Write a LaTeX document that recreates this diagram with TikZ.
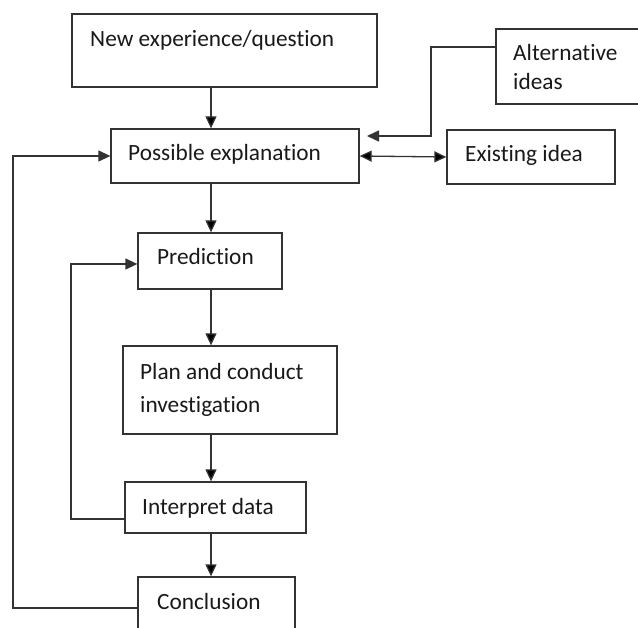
\documentclass[tikz,border=0pt]{standalone}
\usepackage{fontspec}
\setmainfont{Carlito}[Ligatures=NoCommon]
\usetikzlibrary{arrows.meta, positioning}

\begin{document}
\begin{tikzpicture}[x=1pt, y=-1pt,
    box/.style={draw=black!80, line width=1.3pt, inner sep=0pt},
    txt/.style={anchor=base west, inner sep=0pt, text=black!90, font=\fontsize{23.3}{29}\selectfont},
    link/.style={draw=black!80, line width=1.3pt},
    >={Triangle[length=12pt, width=11pt]}]
    \useasboundingbox (0, 0) rectangle (638, 628);
    % boxes
    \node[box, minimum width=305pt, minimum height=73pt] (nq) at (224.5, 50.5) {};
    \node[box, minimum width=204pt, minimum height=75pt] (alt) at (598, 66.5) {};
    \node[box, minimum width=248pt, minimum height=54pt] (pe) at (235, 156) {};
    \node[box, minimum width=168pt, minimum height=54pt] (ei) at (531, 157) {};
    \node[box, minimum width=144pt, minimum height=56pt] (pr) at (210, 261) {};
    \node[box, minimum width=214pt, minimum height=88pt] (pc) at (230, 390) {};
    \node[box, minimum width=181pt, minimum height=51pt] (id) at (215.5, 507.5) {};
    \node[box, minimum width=157pt, minimum height=83pt] (co) at (216.5, 618.5) {};
    % texts
    \node[txt] (nqt) at (90, 46.5) {New experience/question};
    \node[txt] (altt) at (513, 60.5) {\parbox[t]{4cm}{Alternative\\ideas}};
    \node[txt] (pet) at (128, 160.5) {Possible explanation};
    \node[txt] (eit) at (465, 162) {Existing idea};
    \node[txt] (prt) at (157, 264.5) {Prediction};
    \node[txt] (pct) at (140, 379.5) {\parbox[t]{6cm}{\baselineskip=33pt Plan and conduct\\investigation}};
    \node[txt] (idt) at (142, 514.5) {Interpret data};
    \node[txt] (cot) at (157, 609.5) {Conclusion};
    % connectors
    \coordinate (spine) at (211, 0);
    \coordinate (outer) at (13, 608);
    \coordinate (inner) at (71, 519);
    \coordinate (altbend) at (431, 136);
    \coordinate (altin) at (367, 136);
    \draw[link]
    (nq.south -| spine) edge[->] (pe.north -| spine)
    (pe.south -| spine) edge[->] (pr.north -| spine)
    (pr.south -| spine) edge[->] (pc.north -| spine)
    (pc.south -| spine) edge[->] (id.north -| spine)
    (id.south -| spine) edge[->] (co.north -| spine)
    (pe.east) edge[<->] (ei.west);
    \draw[link, ->] (alt.west |- 0, 47) -| (altbend) -- (altin);
    \draw[link, ->] (co.west |- outer) -- (outer) |- (pe.west);
    \draw[link, ->] (id.west |- inner) -- (inner) |- (pr.west |- 0, 264);
\end{tikzpicture}
\end{document}
